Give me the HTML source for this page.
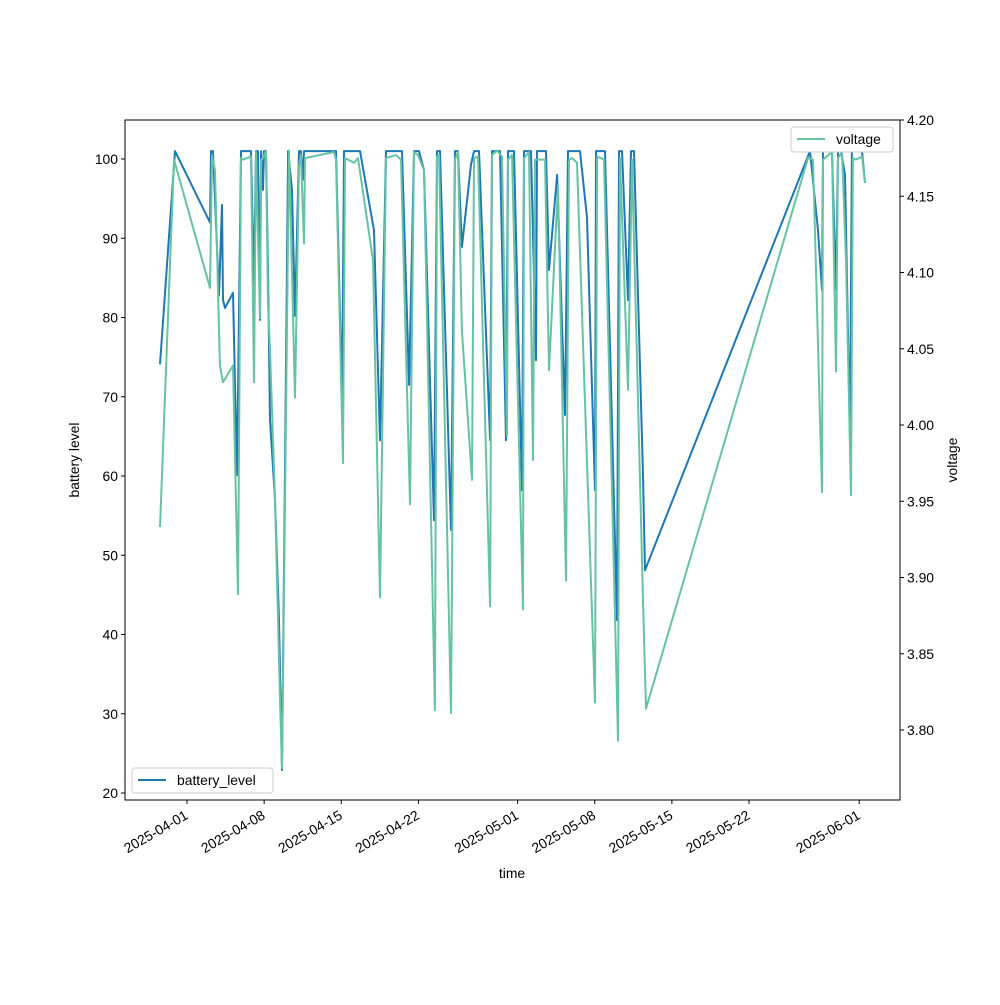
<!DOCTYPE html>
<html><head><meta charset="utf-8"><style>
body{margin:0;background:#fff}
svg{font-family:"Liberation Sans","DejaVu Sans",sans-serif}
</style></head><body>
<svg id="chart" width="1000" height="1000" viewBox="0 0 1000 1000" xmlns="http://www.w3.org/2000/svg">
<rect width="1000" height="1000" fill="#fff"/>
<g id="plot"></g>
<g id="axes"></g>
</svg>
<script>
// Day offsets from 2025-04-01
const xTickDays = [0, 7, 14, 21, 30, 37, 44, 51, 61];
const xTickLabels = ["2025-04-01","2025-04-08","2025-04-15","2025-04-22","2025-05-01","2025-05-08","2025-05-15","2025-05-22","2025-06-01"];
const leftTicks = [20,30,40,50,60,70,80,90,100];
const rightTicks = [3.80,3.85,3.90,3.95,4.00,4.05,4.10,4.15,4.20];

const batteryDays = [-2.45,-1.09,2.09,2.18,2.36,2.90,3.18,3.27,3.45,4.17,4.54,4.90,5.81,6.08,6.26,6.44,6.62,6.72,6.90,6.99,7.17,7.35,7.53,7.99,8.35,8.62,9.17,9.53,9.80,10.16,10.34,10.53,10.62,13.52,14.07,14.25,15.70,16.97,17.51,18.06,19.51,20.15,20.60,21.05,21.51,22.41,22.69,22.96,23.96,24.32,24.59,24.95,25.77,26.04,26.50,27.50,27.68,28.40,28.95,29.13,29.67,30.40,30.58,31.22,31.67,31.76,32.58,32.85,33.58,34.30,34.57,35.66,36.30,37.02,37.11,37.93,39.02,39.20,39.47,40.02,40.29,40.56,41.38,41.56,56.53,57.26,57.62,57.71,58.53,58.89,59.07,59.35,59.71,60.16,60.34,61.25,61.52];
const batteryLevel = [74.1,101,92.0,101,101,82.8,94.2,82.2,81.2,83.1,60.1,101,101,84.1,101,101,79.7,101,96.1,101,101,86.0,67.1,57.0,41.8,22.9,101,96.1,80.2,101,101,97.4,101,101,69.6,101,101,91.0,64.5,101,101,71.5,101,101,98.6,54.4,101,101,53.2,101,101,88.9,99.3,101,101,64.5,101,101,64.5,101,101,58.2,101,101,74.6,101,101,86.0,98.0,67.7,101,101,92.6,58.2,101,101,41.8,101,101,82.2,101,101,60.1,48.1,101,91.0,83.5,101,101,83.5,101,101,98.0,64.5,101,101,97.0];

const voltageDays = [-2.45,-1.18,2.09,2.27,2.54,2.99,3.27,4.17,4.63,4.90,5.08,5.81,6.08,6.26,6.62,6.72,6.90,7.17,7.35,7.53,7.99,8.44,8.62,9.26,9.80,10.16,10.34,10.62,10.71,13.34,13.52,14.16,14.34,14.61,15.15,15.52,16.88,17.51,18.06,18.97,19.42,20.24,20.60,20.96,21.51,22.50,22.69,22.87,23.96,24.32,24.59,24.95,25.86,26.04,26.41,27.50,27.68,28.13,28.58,29.04,29.13,29.49,30.49,30.58,31.03,31.40,31.58,32.49,32.85,33.67,34.39,34.66,34.94,35.39,37.02,37.21,37.84,39.11,39.29,40.02,40.38,41.38,41.65,56.35,56.81,57.62,57.71,58.53,58.89,59.07,59.44,59.80,60.25,60.43,60.70,61.25,61.52];
const voltage = [3.933,4.174,4.090,4.177,4.167,4.039,4.028,4.039,3.889,4.175,4.174,4.176,4.028,4.179,4.070,4.174,4.175,4.180,4.079,4.049,3.951,3.820,3.775,4.180,4.018,4.170,4.177,4.119,4.175,4.179,4.174,3.975,4.175,4.174,4.172,4.175,4.108,3.887,4.175,4.177,4.174,3.948,4.179,4.177,4.167,3.813,4.176,4.177,3.811,4.174,4.179,4.062,3.964,4.175,4.176,3.881,4.177,4.180,4.176,3.993,4.174,4.177,3.879,4.175,4.179,3.977,4.174,4.174,4.036,4.157,3.898,4.174,4.175,4.172,3.818,4.176,4.174,3.793,4.175,4.023,4.174,3.885,3.814,4.175,4.174,3.956,4.174,4.179,4.035,4.175,4.179,4.108,3.954,4.175,4.174,4.176,4.159];

const L=125,R=900,T=120,B=800;
const FS=13.9;
const xS = d => 187 + d*11.02;
const yL = v => 793 - (v-20)*7.925;
const yR = v => 120 + (4.2-v)*1525;
const NS="http://www.w3.org/2000/svg";
const plot=document.getElementById('plot'), axes=document.getElementById('axes');
function mk(tag, attrs, parent, text){const e=document.createElementNS(NS,tag);for(const k in attrs)e.setAttribute(k,attrs[k]);if(text!==undefined)e.textContent=text;parent.appendChild(e);return e;}

let p1=batteryDays.map((d,i)=>xS(d).toFixed(1)+','+yL(batteryLevel[i]).toFixed(1)).join(' ');
const bl=mk('polyline',{points:p1,fill:'none',stroke:'#1f77b4','stroke-width':2,'stroke-linejoin':'round'},plot);


let p2=voltageDays.map((d,i)=>xS(d).toFixed(1)+','+yR(voltage[i]).toFixed(1)).join(' ');
const vl=mk('polyline',{points:p2,fill:'none',stroke:'#66c2a5','stroke-width':2,'stroke-linejoin':'round'},plot);



const frame=mk('rect',{x:L,y:T,width:R-L,height:B-T,fill:'none',stroke:'#000','stroke-width':1},axes);



leftTicks.forEach(v=>{const y=yL(v);
 mk('line',{x1:L-4,x2:L,y1:y,y2:y,stroke:'#000'},axes);
 const t=mk('text',{x:L-7,y:y+5,'text-anchor':'end','font-size':FS},axes,String(v));
 
 });
rightTicks.forEach(v=>{const y=yR(v);
 mk('line',{x1:R,x2:R+4,y1:y,y2:y,stroke:'#000'},axes);
 const t=mk('text',{x:R+7,y:y+5,'font-size':FS},axes,v.toFixed(2));
 
 });
xTickDays.forEach((d,i)=>{const x=xS(d);
 mk('line',{x1:x,x2:x,y1:B,y2:B+4,stroke:'#000'},axes);
 const ax=x+2, ay=B+18;
 const t=mk('text',{x:ax,y:ay,'text-anchor':'end','font-size':FS,transform:`rotate(-30 ${ax} ${ay})`},axes,xTickLabels[i]);
 
 });

let t=mk('text',{x:512,y:878,'text-anchor':'middle','font-size':FS},axes,'time');


t=mk('text',{x:79,y:460,'text-anchor':'middle','font-size':FS,transform:'rotate(-90 79 460)'},axes,'battery level');


t=mk('text',{x:957,y:460,'text-anchor':'middle','font-size':FS,transform:'rotate(-90 957 460)'},axes,'voltage');



// legends
let g=mk('g',{},axes);


mk('rect',{x:132,y:768,width:141,height:25,rx:3,fill:'#fff',stroke:'#ccc'},g);
mk('line',{x1:138,x2:166,y1:780,y2:780,stroke:'#1f77b4','stroke-width':2},g);
mk('text',{x:177,y:785,'font-size':FS},g,'battery_level');
g=mk('g',{},axes);


mk('rect',{x:791,y:127,width:102,height:25,rx:3,fill:'#fff',stroke:'#ccc'},g);
mk('line',{x1:797,x2:825,y1:139,y2:139,stroke:'#66c2a5','stroke-width':2},g);
mk('text',{x:836,y:144,'font-size':FS},g,'voltage');
</script>
</body></html>
